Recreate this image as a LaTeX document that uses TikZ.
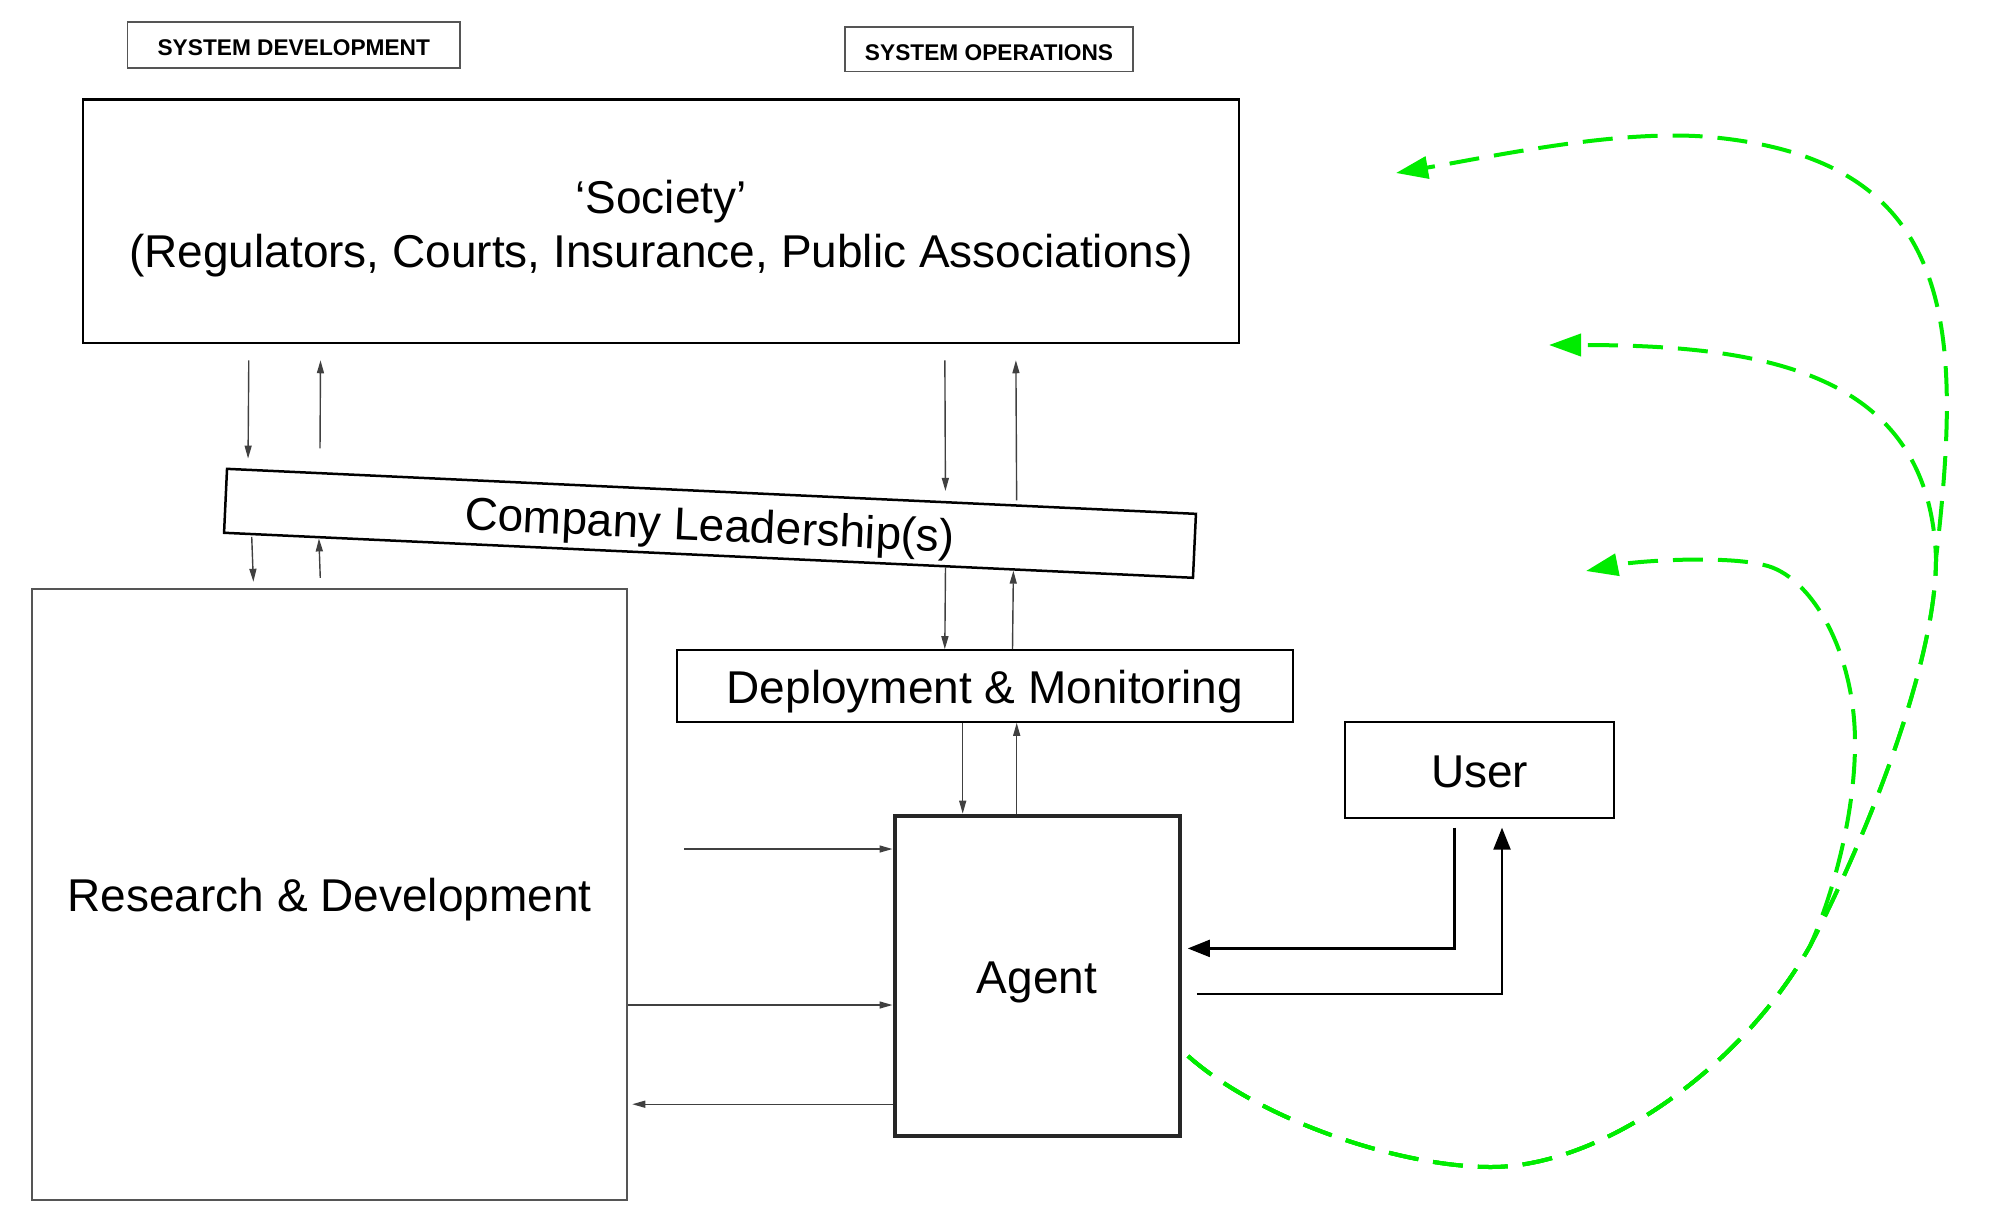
\documentclass[tikz,border=0pt]{standalone}
\usepackage{fontspec}
\setmainfont{Liberation Sans}
\usetikzlibrary{arrows.meta,calc}
\definecolor{glime}{RGB}{0,236,0}
\definecolor{lgray}{RGB}{85,85,85}
\begin{document}
\begin{tikzpicture}[x=1pt,y=-1pt,
  box/.style={draw, rectangle, inner sep=0pt, text height=35pt, text depth=0pt, font=\fontsize{46}{53.5}\selectfont, align=center},
  tag/.style={draw=lgray, line width=1.6pt, inner sep=0pt, text height=22pt, text depth=0pt, font=\bfseries\fontsize{22.7}{26}\selectfont},
  sa/.style={draw=black!75, line width=1.4pt, -{Triangle[length=13pt,width=7pt]}},
  ua/.style={draw=black, line width=2.2pt, -{Triangle[length=22pt,width=17pt]}},
  ga/.style={draw=glime, line width=4pt, dash pattern=on 30pt off 15pt, -{Triangle[length=32pt,width=22pt]}},
]
\useasboundingbox (0,0) rectangle (1999,1219);

\node[tag, minimum width=332.5pt, minimum height=46pt] (sysdev) at (293.8,44.7) {SYSTEM DEVELOPMENT};
\node[tag, minimum width=288pt, minimum height=44.6pt] (sysops) at (989,49.3) {SYSTEM OPERATIONS};
\node[box, line width=2.5pt, text height=92.5pt, minimum width=1156pt, minimum height=243.6pt] (society) at (661,221.2) {‘Society’\\(Regulators, Courts, Insurance, Public Associations)};
\node[box, line width=2.5pt, minimum width=970pt, minimum height=64pt, rotate=-2.66] (cl) at (710,523.3) {Company Leadership(s)};
\node[box, draw=lgray, line width=2pt, minimum width=595.5pt, minimum height=611pt] (rd) at (329.5,894.3) {Research \& Development};
\node[box, line width=2pt, minimum width=615.7pt, minimum height=71.6pt] (dm) at (985,686) {Deployment \& Monitoring};
\node[box, draw=black!85, line width=4pt, minimum width=285pt, minimum height=320.7pt] (agent) at (1037,976) {Agent};
\node[box, line width=2pt, minimum width=269.4pt, minimum height=95.3pt] (user) at (1479.7,770) {User};

% x positions of the thin connectors
\coordinate (xa) at (248.9,0);
\coordinate (xb) at (320.6,0);
\coordinate (xc) at (944.8,0);
\coordinate (xd) at (1015.8,0);
\coordinate (xe) at (253.6,0);
\coordinate (xf) at (1012.5,0);
\coordinate (xg) at (962.7,0);
\coordinate (xh) at (1016.7,0);
\coordinate (xi) at (684.2,849);
\coordinate (yj) at (0,1005);
\coordinate (yk) at (0,1104.2);

% Society <-> Company Leadership
\draw[sa, shorten <=16pt, shorten >=10pt] (xa |- society.south) -- ($(cl.north west)!0.0228!(cl.north east)$);
\draw[sa, shorten <=23.6pt, shorten >=16pt] ($(cl.north west)!0.0968!(cl.north east)$) -- (xb |- society.south);
\draw[sa, shorten <=16pt, shorten >=10pt] (xc |- society.south) -- ($(cl.north west)!0.7408!(cl.north east)$);
\draw[sa, shorten <=4pt, shorten >=16pt] ($(cl.north west)!0.8141!(cl.north east)$) -- (xd |- society.south);

% Company Leadership <-> R&D
\draw[sa, shorten <=1.5pt, shorten >=6pt] ($(cl.south west)!0.02976!(cl.south east)$) -- (xe |- rd.north);
\draw[sa, shorten <=10pt] (xb |- rd.north) -- ($(cl.south west)!0.0990!(cl.south east)$);

% Company Leadership <-> Deployment
\draw[sa] ($(cl.south west)!0.744!(cl.south east)$) -- (xc |- dm.north);
\draw[sa] (xf |- dm.north) -- ($(cl.south west)!0.8139!(cl.south east)$);

% Deployment <-> Agent
\draw[sa] (xg |- dm.south) -- (xg |- agent.north);
\draw[sa] (xh |- agent.north) -- (xh |- dm.south);

% R&D <-> Agent
\draw[sa] (xi) -- (xi -| agent.west);
\draw[sa] (rd.east |- yj) -- (agent.west |- yj);
\draw[sa, shorten >=4pt] (agent.west |- yk) -- (rd.east |- yk);

% User <-> Agent
\draw[ua] ([xshift=-25.3pt,yshift=-9pt]user.south) |- ([xshift=6.3pt,yshift=27.6pt]agent.east);
\draw[ua] ([xshift=15.4pt,yshift=-17.6pt]agent.east) -| ([xshift=22.3pt,yshift=-9pt]user.south);

% green feedback curves
\coordinate (gs) at ([xshift=6.5pt,yshift=-80pt]agent.east);
\coordinate (gj) at (1810,946);
\coordinate (gk) at (1936,559);
\coordinate (t1) at (1396,173);
\coordinate (t2) at (1549,345);
\coordinate (t3) at (1586,571);

\draw[ga] (gs) .. controls (1260,1120) and (1400,1167) .. (1491,1167)
  .. controls (1600,1167) and (1740,1070) .. (gj)
  .. controls (1870,830) and (1936,660) .. (gk)
  .. controls (1962,330) and (1960,160) .. (1710,137)
  .. controls (1620,129) and (1500,155) .. (t1);
\draw[ga] (gs) .. controls (1260,1120) and (1400,1167) .. (1491,1167)
  .. controls (1600,1167) and (1740,1070) .. (gj)
  .. controls (1870,830) and (1936,660) .. (gk)
  .. controls (1930,370) and (1760,345) .. (t2);
\draw[ga] (gs) .. controls (1260,1120) and (1400,1167) .. (1491,1167)
  .. controls (1600,1167) and (1740,1070) .. (gj)
  .. controls (1835,890) and (1855,810) .. (1855,743)
  .. controls (1855,650) and (1810,575) .. (1764,565)
  .. controls (1724,555) and (1636,561) .. (t3);
\end{tikzpicture}
\end{document}
